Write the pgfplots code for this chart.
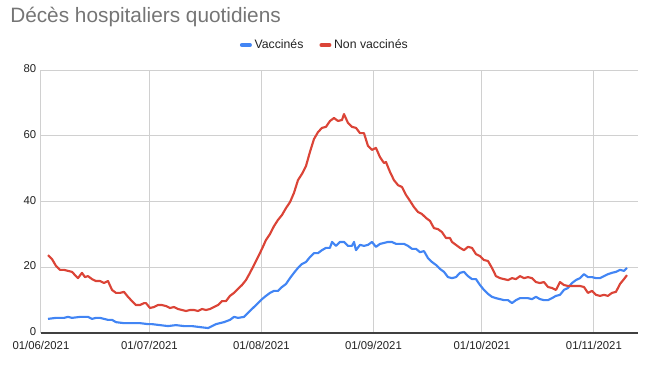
\documentclass[border=0pt]{standalone}
\usepackage{fontspec}
\setmainfont{Liberation Sans}
\usepackage{pgfplots}
\pgfplotsset{compat=1.18}
\definecolor{gblue}{HTML}{4285F4}
\definecolor{gred}{HTML}{DB4437}
\definecolor{ggrid}{HTML}{D0D0D0}
\definecolor{gtitle}{HTML}{757575}
\definecolor{glabel}{HTML}{222222}
\begin{document}
\begin{tikzpicture}[x=1pt,y=1pt]
\begin{axis}[
  at={(30.75pt,24pt)}, anchor=south west,
  scale only axis, width=447.75pt, height=197.25pt,
  xmin=0, xmax=165.2, ymin=0, ymax=80,
  xtick={0,30,61,92,122,153},
  xticklabels={01/06/2021,01/07/2021,01/08/2021,01/09/2021,01/10/2021,01/11/2021},
  ytick={0,20,40,60,80},
  grid=major, grid style={ggrid, line width=0.75pt},
  major tick length=0pt,
  axis x line*=bottom, axis y line*=left,
  x axis line style={-, black!75, line width=0.9pt},
  y axis line style={draw=none},
  tick label style={font=\fontsize{8.5}{10}\selectfont, text=glabel},
  xticklabel style={yshift=-2.5pt},
  yticklabel style={yshift=1pt},
  /pgf/number format/assume math mode=true,
  legend columns=2,
  legend style={at={(0.476,1.095)}, anchor=center, draw=none, fill=none,
    font=\fontsize{9.2}{11}\selectfont, text=glabel,
    /tikz/every even column/.append style={column sep=10pt}},
  legend image code/.code={\draw[#1, line width=3pt, line cap=round] (1.5pt,0pt) -- (7.5pt,0pt);},
]
\addplot[gblue, line width=1.6pt, line join=round] coordinates {
(1.94,4.3)(4.15,4.6)(6.36,4.6)(7.47,4.9)(8.58,4.6)(10.79,4.9)(13.0,4.9)(14.11,4.3)(15.22,4.6)(16.33,4.6)(17.43,4.3)(18.54,4.0)(19.65,4.0)(20.75,3.3)(22.97,3.0)(25.18,3.0)(27.39,3.0)(29.6,2.7)(30.71,2.7)(32.93,2.4)(35.14,2.1)(37.35,2.4)(39.57,2.1)(41.78,2.1)(44.0,1.8)(46.21,1.5)(47.32,2.1)(48.42,2.7)(50.64,3.3)(52.3,4.0)(53.4,4.9)(54.51,4.6)(56.17,4.9)(57.28,6.1)(58.38,7.3)(60.04,9.1)(61.15,10.3)(62.26,11.3)(63.37,12.2)(64.47,12.8)(65.58,12.8)(66.69,14.0)(67.79,14.9)(68.9,16.7)(70.0,18.3)(71.11,19.8)(72.22,21.0)(73.33,21.6)(74.43,23.1)(75.54,24.3)(76.65,24.3)(77.75,25.2)(78.86,25.9)(79.97,25.9)(80.52,27.7)(81.63,26.5)(82.73,27.7)(83.84,27.7)(84.95,26.5)(86.05,26.5)(86.61,27.7)(87.16,25.2)(88.27,26.8)(89.37,26.5)(90.48,26.8)(91.59,27.7)(92.69,26.2)(93.8,27.1)(94.91,27.4)(96.01,27.7)(97.12,27.7)(98.23,27.1)(99.34,27.1)(100.44,27.1)(101.55,26.5)(102.66,25.6)(103.76,25.6)(104.87,24.6)(105.98,24.9)(107.08,22.8)(108.19,21.6)(109.3,20.7)(110.4,19.5)(111.51,18.6)(112.62,17.0)(113.72,16.7)(114.83,17.0)(115.94,18.3)(117.04,18.6)(118.15,17.3)(119.26,16.4)(120.36,16.4)(121.47,14.6)(122.58,13.1)(123.69,11.9)(124.79,11.0)(125.9,10.6)(127.0,10.3)(128.11,10.0)(129.22,10.0)(130.33,9.1)(131.43,10.0)(132.54,10.6)(133.65,10.6)(134.75,10.6)(135.86,10.3)(136.97,11.0)(138.07,10.3)(139.18,10.0)(140.29,10.0)(141.39,10.6)(142.5,11.3)(143.61,11.6)(144.71,13.1)(145.82,13.7)(146.93,15.2)(148.03,16.1)(149.14,16.7)(150.25,17.9)(151.35,17.0)(152.46,17.0)(153.57,16.7)(154.68,16.7)(155.78,17.3)(156.89,17.9)(157.99,18.3)(159.1,18.6)(160.21,19.2)(161.32,18.9)(162.15,19.8)
};
\addlegendentry{Vaccinés}
\addplot[gred, line width=1.6pt, line join=round] coordinates {
(1.94,23.7)(3.04,22.5)(4.15,20.4)(5.26,19.2)(6.36,19.2)(7.47,18.9)(8.58,18.6)(9.68,17.3)(10.24,16.7)(11.34,18.3)(12.17,17.0)(13.0,17.3)(14.11,16.4)(15.22,15.8)(16.33,15.8)(17.43,15.2)(18.54,15.8)(19.65,13.1)(20.75,12.2)(21.86,12.2)(22.97,12.5)(24.07,11.0)(25.18,9.7)(26.29,8.5)(27.39,8.5)(28.5,9.1)(29.05,9.1)(30.16,7.6)(31.27,7.9)(32.37,8.5)(33.48,8.5)(34.59,8.2)(35.69,7.6)(36.8,7.9)(37.91,7.3)(39.02,7.0)(40.12,6.7)(41.23,7.0)(42.34,7.0)(43.44,6.7)(44.55,7.3)(45.66,7.0)(46.76,7.3)(47.87,7.9)(48.98,8.5)(50.08,9.7)(51.19,9.7)(52.3,11.3)(53.4,12.2)(54.51,13.4)(55.62,14.6)(56.72,16.1)(57.83,18.3)(58.94,20.7)(60.04,23.1)(61.15,25.6)(62.26,28.3)(63.37,30.1)(64.47,32.5)(65.58,34.4)(66.69,35.9)(67.79,38.0)(68.9,39.8)(70.0,42.6)(71.11,46.5)(72.22,48.4)(73.33,50.8)(74.43,55.1)(75.54,59.0)(76.65,61.1)(77.75,62.4)(78.86,62.7)(79.97,64.5)(81.08,65.4)(82.18,64.5)(83.29,64.8)(83.84,66.6)(84.95,63.9)(86.05,62.7)(87.16,62.4)(88.27,60.8)(89.37,60.8)(90.48,56.9)(91.59,55.7)(92.69,56.3)(93.8,53.5)(94.91,51.7)(95.46,52.0)(96.57,49.0)(97.67,46.5)(98.78,45.0)(99.89,44.4)(101.0,42.0)(102.1,40.2)(103.21,38.3)(104.32,36.8)(105.42,36.2)(106.53,35.0)(107.64,34.1)(108.74,31.9)(109.85,31.6)(110.96,30.7)(112.06,28.9)(113.17,28.9)(113.72,27.7)(114.83,26.8)(115.94,25.9)(117.04,25.2)(118.15,26.2)(119.26,25.9)(120.36,24.0)(121.47,23.4)(122.58,22.2)(123.69,21.9)(124.79,19.8)(125.9,17.3)(127.0,16.7)(128.11,16.4)(129.22,16.1)(130.33,16.7)(131.43,16.4)(132.54,17.3)(133.65,16.7)(134.75,17.0)(135.86,16.7)(136.97,15.5)(138.07,15.2)(139.18,15.5)(140.29,14.0)(141.39,13.7)(142.5,13.1)(143.61,15.5)(144.71,14.6)(145.82,14.3)(146.93,14.3)(148.03,14.3)(149.14,14.3)(150.25,14.0)(151.35,12.2)(152.46,12.8)(153.57,11.6)(154.68,11.3)(155.78,11.6)(156.89,11.3)(157.99,12.2)(159.1,12.5)(160.21,14.9)(161.32,16.4)(162.15,17.6)
};
\addlegendentry{Non vaccinés}
\end{axis}
\node[anchor=west, font=\fontsize{15.6}{18}\selectfont, text=gtitle, inner sep=0pt] at (7.5pt,261pt) {Décès hospitaliers quotidiens};
\pgfresetboundingbox
\path[use as bounding box] (0,0) rectangle (487.5,273.75);
\end{tikzpicture}
\end{document}
